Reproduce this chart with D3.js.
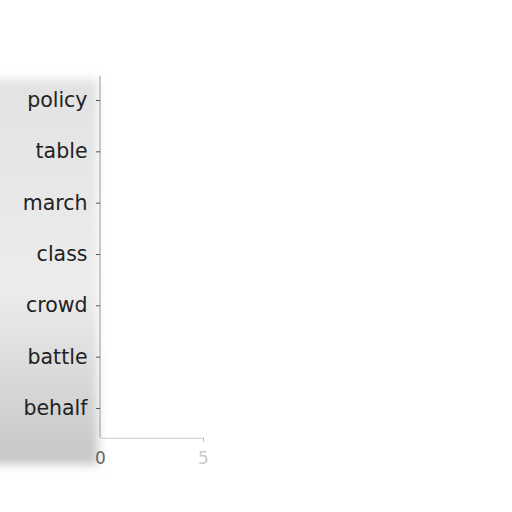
<!DOCTYPE html>
<html><head><meta charset="utf-8">
<script src="https://cdn.jsdelivr.net/npm/d3@7"></script>
<style>body{margin:0;background:#fff}svg{display:block}</style>
</head><body>
<svg id="c" width="512" height="512"></svg>
<script>
const categories = ["policy","table","march","class","crowd","battle","behalf"];
const values = [0,0,0,0,0,0,0];
const xTicks = [0,5];

const svg = d3.select("#c");
const defs = svg.append("defs");
const f = defs.append("filter").attr("id","blur").attr("x","-20%").attr("y","-20%").attr("width","140%").attr("height","140%");
f.append("feGaussianBlur").attr("stdDeviation",5);
const g = defs.append("linearGradient").attr("id","shade").attr("x1",0).attr("y1",0).attr("x2",0).attr("y2",1);
g.append("stop").attr("offset","0%").attr("stop-color","#e2e2e2");
g.append("stop").attr("offset","55%").attr("stop-color","#ececec");
g.append("stop").attr("offset","100%").attr("stop-color","#c6c6c6");

const x = d3.scaleLinear().domain([0,5]).range([100,203]);
const y = d3.scalePoint().domain(categories).range([100,408]);
const step = y.step();

// smeared background behind labels
svg.append("rect").attr("x",-20).attr("y",y(categories[0])-step*0.4).attr("width",118)
  .attr("height",(y(categories[6])+step*1.1)-(y(categories[0])-step*0.4))
  .attr("fill","url(#shade)").attr("filter","url(#blur)");

// bars
svg.append("g").selectAll("rect").data(values).join("rect")
  .attr("x",x(0)).attr("y",(d,i)=>y(categories[i])-step*0.4)
  .attr("width",d=>x(d)-x(0)).attr("height",step*0.8).attr("fill","#4c72b0");

// y axis
const ya = svg.append("g").attr("transform",`translate(${x(0)},0)`)
  .call(d3.axisLeft(y).tickSize(4).tickPadding(8.5));
ya.select(".domain").attr("d",`M0,${y(categories[0])-step*0.47}V${y(categories[6])+step*0.58}`)
  .attr("stroke","#999");
ya.selectAll(".tick line").attr("stroke","#555");
ya.selectAll(".tick text").attr("font-family","DejaVu Sans").attr("font-size",20.5).attr("fill","#222");

// x axis
const xa = svg.append("g").attr("transform",`translate(0,${y(categories[6])+step*0.58})`)
  .call(d3.axisBottom(x).tickValues(xTicks).tickFormat(d3.format("d")).tickSize(4).tickPadding(10).tickSizeOuter(0));
xa.select(".domain").attr("stroke","#ccc");
xa.selectAll(".tick line").attr("stroke","#bbb");
xa.selectAll(".tick text").attr("font-family","DejaVu Sans").attr("font-size",17)
  .attr("fill",(d)=>d===0?"#666":"#ccc");
xa.selectAll(".tick").filter(d=>d===0).select("line").attr("stroke","none");
</script>
</body></html>
